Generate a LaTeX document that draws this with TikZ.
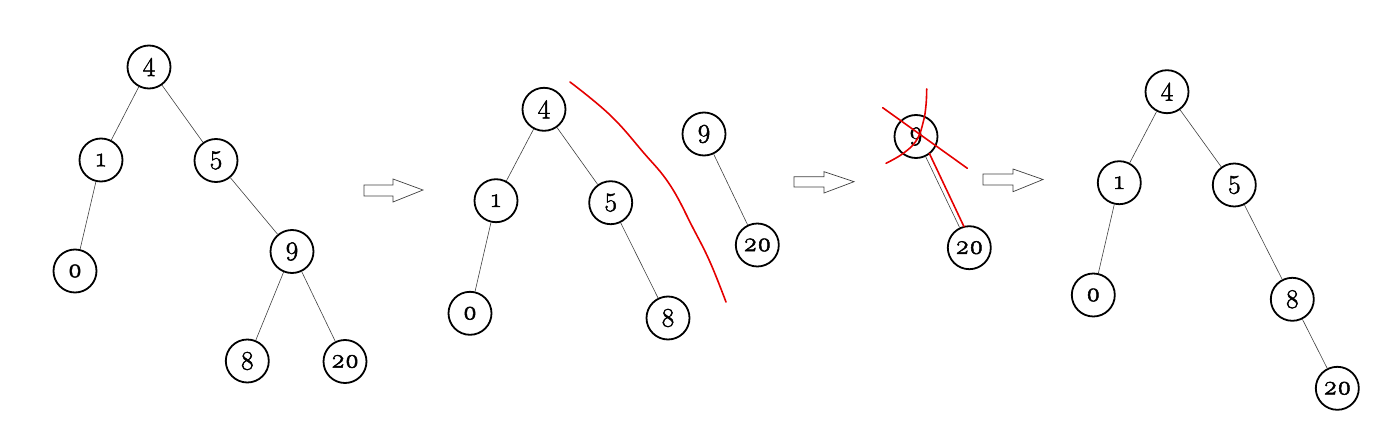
\documentclass[tikz,border=0pt]{standalone}
\usepackage{fontspec}
\setmainfont{Latin Modern Roman}
\newfontfamily\nodefont{Latin Modern Roman}[FakeBold=1.8]
\newfontfamily\osf{Latin Modern Roman}[Numbers=OldStyle,FakeBold=1.8]
\begin{document}
\begin{tikzpicture}[x=1pt,y=-1pt,
  tn/.style={circle,draw=black,line width=1.8pt,minimum size=43pt,inner sep=0pt,
    font=\nodefont\fontsize{27pt}{27pt}\selectfont},
  edge/.style={draw=black!75,line width=0.6pt},
  bigarrow/.style={draw=black!75,line width=0.7pt,line join=miter},
  redmark/.style={draw=red!90!black,line width=1.6pt,line cap=round}]
\useasboundingbox (0,0) rectangle (1381,441);
% tree 1
\node[tn] (a4) at (149,67) {4};
\node[tn] (a1) at (101,160) {\osf 1};
\node[tn] (a5) at (216,160.5) {5};
\node[tn] (a0) at (75,271) {\osf 0};
\node[tn] (a9) at (292,251.5) {9};
\node[tn] (a8) at (247.3,361) {8};
\node[tn] (a20) at (345,361.5) {\osf 20};
\draw[edge] (a4) -- (a1);
\draw[edge] (a4) -- (a5);
\draw[edge] (a1) -- (a0);
\draw[edge] (a5) -- (a9);
\draw[edge] (a9) -- (a8);
\draw[edge] (a9) -- (a20);
% arrow 1
\draw[bigarrow] (364,185) -- (393,185) -- (393,179) -- (423,190) -- (393,202) -- (393,196) -- (364,196) -- cycle;
% tree 2
\node[tn] (b4) at (544,109.3) {4};
\node[tn] (b1) at (496,200.7) {\osf 1};
\node[tn] (b5) at (610.7,202.7) {5};
\node[tn] (b0) at (470,313.3) {\osf 0};
\node[tn] (b8) at (668,318) {8};
\node[tn] (b9) at (704,134) {9};
\node[tn] (b20) at (757.3,245) {\osf 20};
\draw[edge] (b4) -- (b1);
\draw[edge] (b4) -- (b5);
\draw[edge] (b1) -- (b0);
\draw[edge] (b5) -- (b8);
\draw[edge] (b9) -- (b20);
\draw[redmark] plot[smooth,tension=0.7] coordinates {(570,82) (610,115) (643,152) (670,185) (693,228) (710,262) (726,302)};
% arrow 2
\draw[bigarrow] (794,176.7) -- (824,176.7) -- (824,171.7) -- (854,181.7) -- (824,193) -- (824,187) -- (794,187) -- cycle;
% panel 3
\node[tn] (c9) at (916,136.5) {9};
\node[tn] (c20) at (969.3,247.7) {\osf 20};
\draw[edge] (c9) -- (c20);
\draw[redmark] (882.7,107.7) -- (967.3,168.3);
\draw[redmark] plot[smooth,tension=0.7] coordinates {(886,163.3) (903.3,153.3) (916.7,140) (923.3,121.7) (926,105) (926.7,89)};
\draw[redmark] (929.3,153.3) -- (964,226.7);
% arrow 3
\draw[bigarrow] (983,174) -- (1013,174) -- (1013,169) -- (1043,179.5) -- (1013,191.7) -- (1013,185) -- (983,185) -- cycle;
% tree 4
\node[tn] (d4) at (1167,91.7) {4};
\node[tn] (d1) at (1119.3,182.7) {\osf 1};
\node[tn] (d5) at (1234.3,185) {5};
\node[tn] (d0) at (1093.3,295) {\osf 0};
\node[tn] (d8) at (1292.3,299.3) {8};
\node[tn] (d20) at (1337.3,388.3) {\osf 20};
\draw[edge] (d4) -- (d1);
\draw[edge] (d4) -- (d5);
\draw[edge] (d1) -- (d0);
\draw[edge] (d5) -- (d8);
\draw[edge] (d8) -- (d20);
\end{tikzpicture}
\end{document}
